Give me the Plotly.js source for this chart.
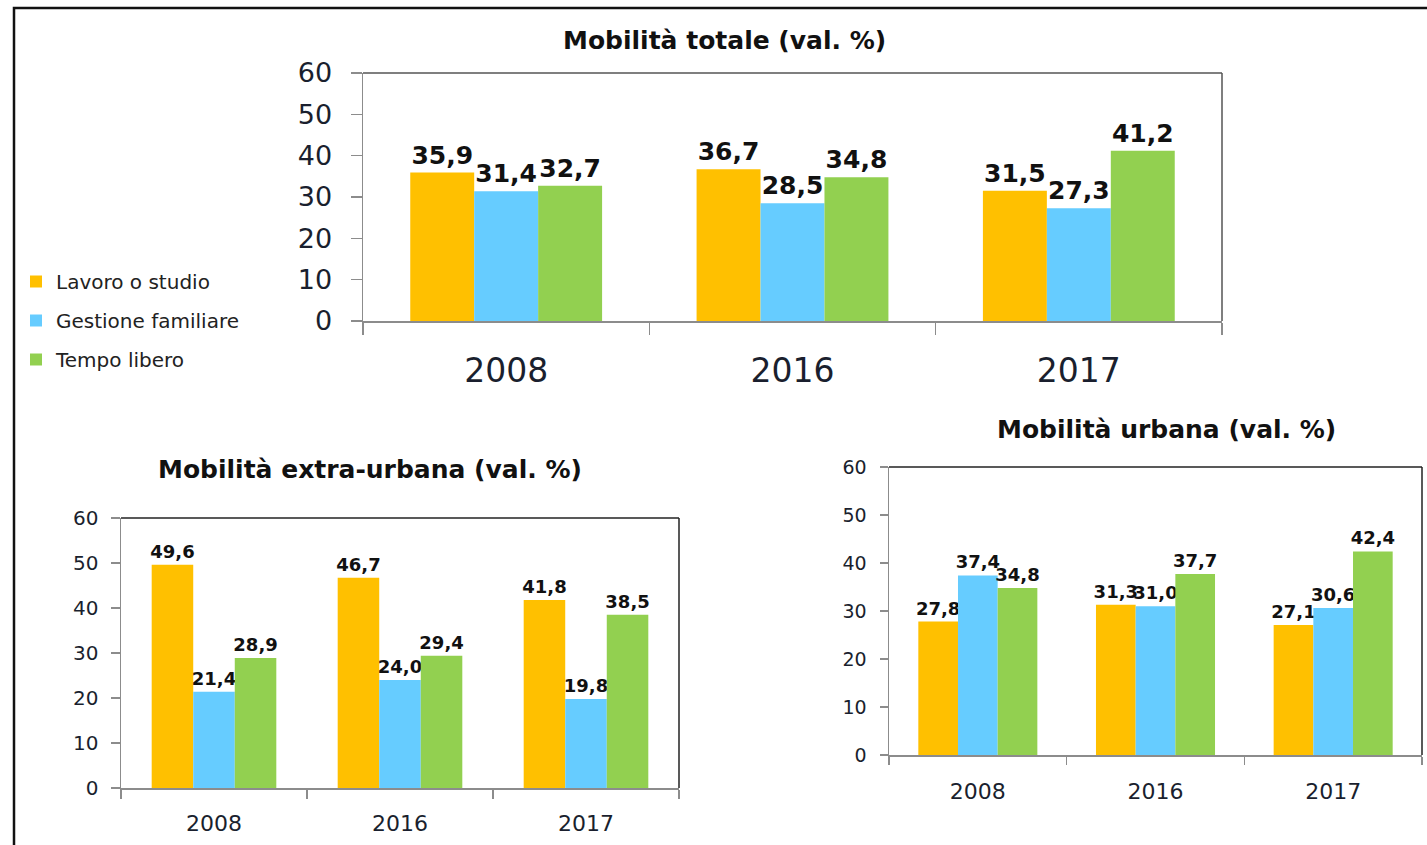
<!DOCTYPE html>
<html>
<head>
<meta charset="utf-8">
<script src="https://cdn.plot.ly/plotly-3.0.1.min.js"></script>
<style>html,body{margin:0;padding:0;background:#fff;}#chart{width:1427px;height:845px;}</style>
</head>
<body>
<div id="chart"></div>
<script>
// ---- Data ----
const years = ["2008", "2016", "2017"];
const seriesNames = ["Lavoro o studio", "Gestione familiare", "Tempo libero"];
const seriesColors = ["#FFC000", "#66CCFF", "#92D050"];

const totaleTitle = "Mobilità totale (val. %)";
const totaleLavoro = [35.9, 36.7, 31.5];
const totaleGestione = [31.4, 28.5, 27.3];
const totaleTempo = [32.7, 34.8, 41.2];

const extraTitle = "Mobilità extra-urbana (val. %)";
const extraLavoro = [49.6, 46.7, 41.8];
const extraGestione = [21.4, 24.0, 19.8];
const extraTempo = [28.9, 29.4, 38.5];

const urbanaTitle = "Mobilità urbana (val. %)";
const urbanaLavoro = [27.8, 31.3, 27.1];
const urbanaGestione = [37.4, 31.0, 30.6];
const urbanaTempo = [34.8, 37.7, 42.4];

const yTicks = [0, 10, 20, 30, 40, 50, 60];

// ---- Build ----
const W = 1427, H = 845;
const FONT = "DejaVu Sans, Verdana, sans-serif";
function px(x){return x / W;}
function py(y){return 1 - y / H;}

const panels = [
  {sets:[totaleLavoro, totaleGestione, totaleTempo], xa:"x", ya:"y", textSize:25, legend:true},
  {sets:[extraLavoro, extraGestione, extraTempo], xa:"x2", ya:"y2", textSize:18, legend:false},
  {sets:[urbanaLavoro, urbanaGestione, urbanaTempo], xa:"x3", ya:"y3", textSize:18, legend:false}
];

const traces = [];
panels.forEach(p => {
  p.sets.forEach((vals, i) => {
    traces.push({
      type: "bar",
      x: years,
      y: vals,
      name: seriesNames[i],
      xaxis: p.xa,
      yaxis: p.ya,
      marker: {color: seriesColors[i], line: {width: 0}},
      text: vals,
      texttemplate: "%{y:.1f}",
      textposition: "outside",
      constraintext: "none",
      cliponaxis: false,
      textfont: {family: FONT, size: p.textSize, color: "#111", weight: "bold"},
      showlegend: p.legend,
      legendgroup: "g" + i,
      hoverinfo: "skip"
    });
  });
});

function xAxis(domain, size, standoff, ticklen){
  return {
    domain: domain, type: "category", showgrid: false, zeroline: false,
    showline: true, linecolor: "#8c8c8c", linewidth: 1.5, mirror: false,
    ticks: "outside", tickson: "boundaries", ticklen: ticklen, tickcolor: "#8c8c8c", tickwidth: 1.5,
    tickfont: {family: FONT, size: size, color: "#1a1f2e"},
    ticklabelstandoff: standoff, fixedrange: true
  };
}
function yAxis(domain, size, standoff, ticklen, anchor){
  return {
    domain: domain, range: [0, 60], tickvals: yTicks, showgrid: false, zeroline: false,
    showline: true, linecolor: "#8c8c8c", linewidth: 1.5, mirror: false,
    ticks: "outside", ticklen: ticklen, tickcolor: "#8c8c8c", tickwidth: 1.5,
    tickfont: {family: FONT, size: size, color: "#1a1f2e"},
    ticklabelstandoff: standoff, anchor: anchor, fixedrange: true
  };
}

function title(text, x, y){
  return {text: "<b>" + text + "</b>", x: px(x), y: py(y), xref: "paper", yref: "paper",
    xanchor: "center", yanchor: "middle", showarrow: false,
    font: {family: FONT, size: 25, color: "#111"}};
}

const layout = {
  width: W, height: H,
  margin: {l: 0, r: 0, t: 0, b: 0},
  paper_bgcolor: "#fff", plot_bgcolor: "#fff",
  separators: ",.",
  barmode: "group", bargap: 0.33, bargroupgap: 0,
  font: {family: FONT, color: "#111"},
  xaxis: Object.assign(xAxis([px(363), px(1222)], 33, 20, 12), {anchor: "y"}),
  yaxis: yAxis([py(321), py(73)], 27, 13, 11, "x"),
  xaxis2: Object.assign(xAxis([px(121), px(679)], 22, 15, 9), {anchor: "y2"}),
  yaxis2: yAxis([py(788), py(518)], 20, 8, 9, "x2"),
  xaxis3: Object.assign(xAxis([px(889), px(1422)], 22, 16, 8), {anchor: "y3"}),
  yaxis3: yAxis([py(755), py(467)], 19, 9, 8, "x3"),
  showlegend: true,
  legend: {
    x: px(16), y: py(262), xanchor: "left", yanchor: "top",
    font: {family: FONT, size: 20, color: "#222"},
    tracegroupgap: 10, itemwidth: 30, bgcolor: "rgba(0,0,0,0)"
  },
  annotations: [
    title(totaleTitle, 724, 40),
    title(extraTitle, 370, 469),
    title(urbanaTitle, 1166, 429)
  ],
  shapes: [
    // outer frame
    {type: "rect", xref: "paper", yref: "paper", x0: px(14), x1: 1.02, y0: -0.02, y1: py(8), line: {color: "#111", width: 2.5}},
    // top/right frame lines of each plot
    {type: "line", xref: "paper", yref: "paper", x0: px(363), x1: px(1222), y0: py(73), y1: py(73), line: {color: "#555", width: 1.5}},
    {type: "line", xref: "paper", yref: "paper", x0: px(1222), x1: px(1222), y0: py(73), y1: py(321), line: {color: "#555", width: 1.5}},
    {type: "line", xref: "paper", yref: "paper", x0: px(121), x1: px(679), y0: py(518), y1: py(518), line: {color: "#222", width: 1.5}},
    {type: "line", xref: "paper", yref: "paper", x0: px(679), x1: px(679), y0: py(518), y1: py(788), line: {color: "#222", width: 1.5}},
    {type: "line", xref: "paper", yref: "paper", x0: px(889), x1: px(1422), y0: py(467), y1: py(467), line: {color: "#222", width: 1.5}},
    {type: "line", xref: "paper", yref: "paper", x0: px(1422), x1: px(1422), y0: py(467), y1: py(755), line: {color: "#222", width: 1.5}}
  ]
};

Plotly.newPlot("chart", traces, layout, {staticPlot: true, displayModeBar: false});
</script>
</body>
</html>
